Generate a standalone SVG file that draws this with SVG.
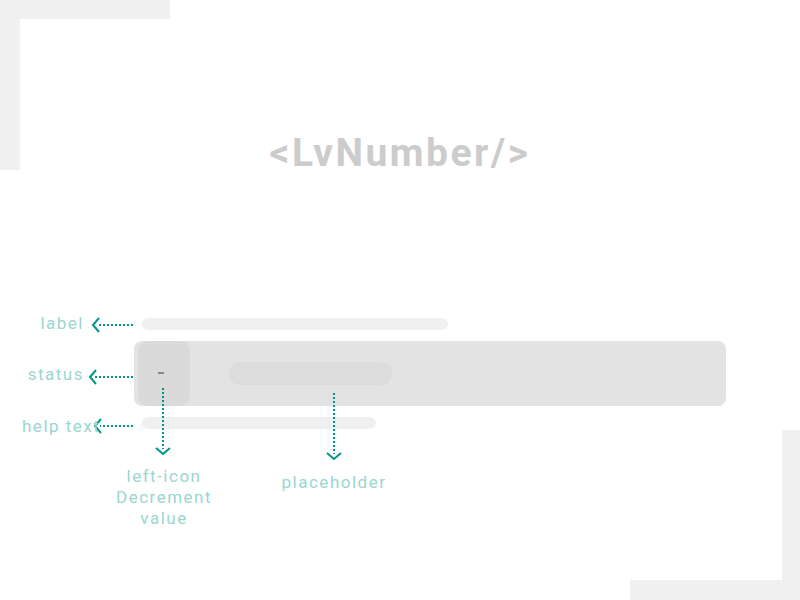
<svg xmlns="http://www.w3.org/2000/svg" width="800" height="600" viewBox="0 0 800 600">
<style>
.lbl{font-family:Roboto,"Liberation Sans",sans-serif;font-size:17px;fill:#9ad6d1;letter-spacing:1.5px}
.conn{stroke:#009688;stroke-width:2;stroke-dasharray:2 2;fill:none}
</style>
<defs>
<marker id="ah" viewBox="0 0 10 16" refX="3" refY="8" markerWidth="10" markerHeight="16" markerUnits="userSpaceOnUse" orient="auto">
<path d="M2,1 L8,8 L2,15" fill="none" stroke="#009688" stroke-width="2"/>
</marker>
</defs>
<rect width="800" height="600" fill="#fff"/>
<g id="frame">
<path d="M0,0 H170 V19 H20 V170 H0 Z" fill="#f0f0f0"/>
<path d="M800,600 H630 V580 H782 V430 H800 Z" fill="#f0f0f0"/>
</g>
<g id="title">
<text x="400" y="166" text-anchor="middle" font-family="Roboto,'Liberation Sans',sans-serif" font-weight="bold" font-size="39" fill="#cccccc" letter-spacing="2.5">&lt;LvNumber/&gt;</text>
</g>
<g id="label-bar"><rect x="142" y="318" width="306" height="12" rx="6" fill="#f0f0f0"/></g>
<g id="input">
<rect x="134" y="341" width="592" height="65" rx="8" fill="#e3e3e3"/>
</g>
<g id="left-icon">
<rect x="138" y="341" width="52" height="65" rx="10" fill="#dadada"/>
<rect x="158" y="372" width="6" height="2" fill="#8a8a8a"/>
</g>
<g id="placeholder"><rect x="229" y="362" width="163" height="23" rx="11.5" fill="#dcdcdc"/></g>
<g id="help-bar"><rect x="142" y="417" width="234" height="12" rx="6" fill="#f0f0f0"/></g>
<g id="connectors">
<line class="conn" x1="133" y1="325" x2="98" y2="325" marker-end="url(#ah)"/>
<line class="conn" x1="133" y1="377" x2="95" y2="377" marker-end="url(#ah)"/>
<line class="conn" x1="133" y1="426" x2="100" y2="426" marker-end="url(#ah)"/>
<line class="conn" x1="163" y1="388" x2="163" y2="449" marker-end="url(#ah)"/>
<line class="conn" x1="334" y1="393" x2="334" y2="454" marker-end="url(#ah)"/>
</g>
<g id="labels">
<text class="lbl" x="84" y="329" text-anchor="end">label</text>
<text class="lbl" x="84" y="380" text-anchor="end">status</text>
<text class="lbl" x="22" y="432">help text</text>
<text class="lbl" x="164" y="482" text-anchor="middle">left-icon</text>
<text class="lbl" x="164" y="503" text-anchor="middle">Decrement</text>
<text class="lbl" x="164" y="524" text-anchor="middle">value</text>
<text class="lbl" x="334" y="488" text-anchor="middle">placeholder</text>
</g>
</svg>
